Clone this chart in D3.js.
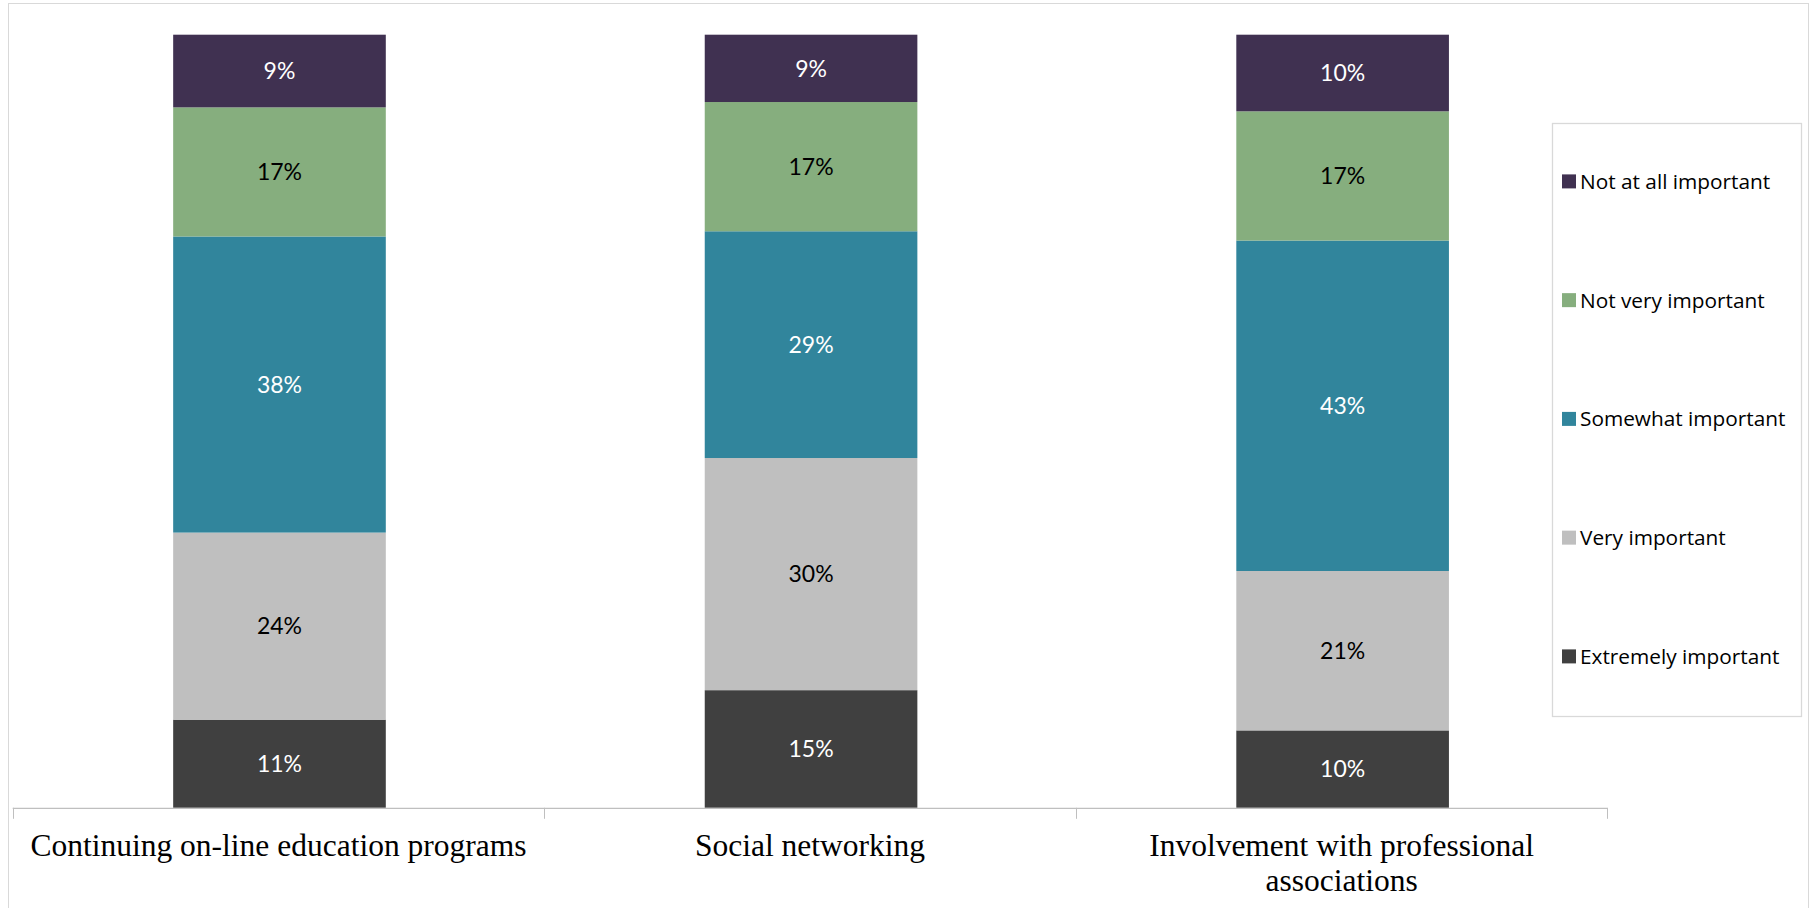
<!DOCTYPE html>
<html>
<head>
<meta charset="utf-8">
<script src="https://cdn.jsdelivr.net/npm/d3@7/dist/d3.min.js"></script>
<style>
html,body{margin:0;padding:0;background:#fff;}
svg{display:block;}
</style>
</head>
<body>
<svg id="chart" width="1812" height="908"></svg>
<script>
// ---- data ----
const categories = [
  ["Continuing on-line education programs"],
  ["Social networking"],
  ["Involvement with professional", "associations"]
];
const seriesNames = ["Extremely important", "Very important", "Somewhat important", "Not very important", "Not at all important"];
const seriesColors = ["#404040", "#bfbfbf", "#31859c", "#86ae7e", "#403151"];
const labelColors = ["#ffffff", "#000000", "#ffffff", "#000000", "#ffffff"];
const extremelyImportant = [11.4, 15.2, 10.0];
const veryImportant      = [24.2, 30.0, 20.6];
const somewhatImportant  = [38.3, 29.3, 42.7];
const notVeryImportant   = [16.7, 16.7, 16.7];
const notAtAllImportant  = [9.4, 8.7, 9.9];

const seriesValues = [extremelyImportant, veryImportant, somewhatImportant, notVeryImportant, notAtAllImportant];
const catKeys = categories.map(c => c.join(" "));
const rows = catKeys.map((k, i) => {
  const r = {cat: k};
  seriesNames.forEach((s, j) => r[s] = seriesValues[j][i]);
  return r;
});

const svg = d3.select("#chart");

// outer chart border
svg.append("rect").attr("x", 8.5).attr("y", 3.5).attr("width", 1800).attr("height", 920)
  .attr("fill", "#fff").attr("stroke", "#d9d9d9").attr("stroke-width", 1);

const x = d3.scaleBand().domain(catKeys).range([12.7, 1607.4]).paddingInner(0).paddingOuter(0);
const y = d3.scaleLinear().domain([0, 1]).range([807.8, 34.7]);
const barW = x.bandwidth() * 0.4;

const stack = d3.stack().keys(seriesNames).offset(d3.stackOffsetExpand);
const stacked = stack(rows);
const pct = d3.format(".0%");

const g = svg.append("g");
stacked.forEach((layer, li) => {
  const lg = g.append("g");
  lg.selectAll("rect").data(layer).join("rect")
    .attr("x", d => x(d.data.cat) + (x.bandwidth() - barW) / 2 + 1)
    .attr("width", barW)
    .attr("y", d => y(d[1]))
    .attr("height", d => y(d[0]) - y(d[1]))
    .attr("fill", seriesColors[li]);
  lg.selectAll("text").data(layer).join("text")
    .attr("x", d => x(d.data.cat) + x.bandwidth() / 2 + 1)
    .attr("y", d => (y(d[0]) + y(d[1])) / 2)
    .attr("dy", "0.36em")
    .attr("text-anchor", "middle")
    .attr("font-family", "Lato, 'Open Sans', sans-serif")
    .attr("font-size", 23)
    .attr("fill", labelColors[li])
    .text(d => pct(d[1] - d[0]));
});

// axis
const axisG = svg.append("g").attr("transform", `translate(0,${y(0)})`);
axisG.append("line").attr("x1", x.range()[0]).attr("x2", x.range()[1])
  .attr("y1", 0.5).attr("y2", 0.5).attr("stroke", "#bfbfbf").attr("stroke-width", 1.3);
const tickPos = catKeys.map(k => x(k)).concat([x.range()[1]]);
axisG.selectAll("line.tick").data(tickPos).join("line").attr("class", "tick")
  .attr("x1", d => Math.round(d) + 0.5).attr("x2", d => Math.round(d) + 0.5)
  .attr("y1", 0).attr("y2", 11).attr("stroke", "#bfbfbf").attr("stroke-width", 1);

const catText = axisG.selectAll("text.cat").data(categories).join("text").attr("class", "cat")
  .attr("text-anchor", "middle")
  .attr("font-family", "'Liberation Serif', serif")
  .attr("font-size", 31.5)
  .attr("fill", "#000");
catText.each(function(lines, i) {
  const t = d3.select(this);
  lines.forEach((ln, j) => {
    t.append("tspan").attr("x", x(catKeys[i]) + x.bandwidth() / 2)
      .attr("y", 38 + j * 35 + 10).text(ln);
  });
});

// legend
const legend = svg.append("g");
legend.append("rect").attr("x", 1552.5).attr("y", 123.5).attr("width", 249).attr("height", 593)
  .attr("fill", "#fff").attr("stroke", "#d9d9d9").attr("stroke-width", 1.3);
const legendOrder = seriesNames.slice().reverse();
const ly = d3.scalePoint().domain(legendOrder).range([181.4, 656.4]);
const li = legend.selectAll("g.item").data(legendOrder).join("g").attr("class", "item")
  .attr("transform", d => `translate(1562,${ly(d)})`);
li.append("rect").attr("x", 0).attr("y", -7).attr("width", 14).attr("height", 14)
  .attr("fill", d => seriesColors[seriesNames.indexOf(d)]);
li.append("text").attr("x", 18).attr("dy", "0.36em")
  .attr("font-family", "'Open Sans', sans-serif").attr("font-size", 20.8).attr("fill", "#000")
  .text(d => d);
</script>
</body>
</html>
